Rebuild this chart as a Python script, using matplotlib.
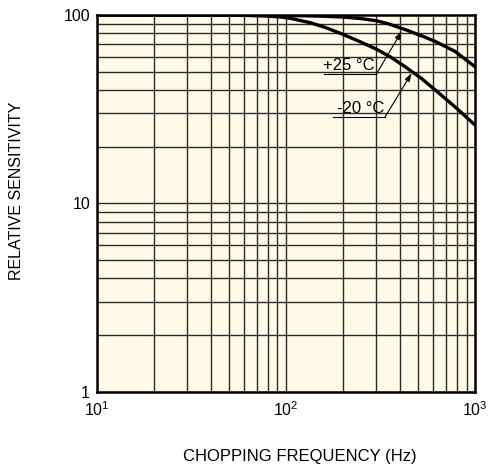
import matplotlib
matplotlib.use("Agg")
import matplotlib.pyplot as plt

plt.rcParams['font.family'] = ['Liberation Sans', 'DejaVu Sans']
plt.rcParams['mathtext.fontset'] = 'custom'
plt.rcParams['mathtext.rm'] = 'Liberation Sans'
plt.rcParams['mathtext.it'] = 'Liberation Sans'

# curve data (Hz, relative sensitivity)
freq_25 = [10, 50, 100, 150, 200, 250, 303, 350, 427, 520, 614, 783, 1000]
sens_25 = [100, 99.8, 99.4, 98.6, 97.5, 95.6, 93, 89.5, 83.6, 77.5, 72.4, 64, 53]
freq_m20 = [10, 40, 62, 80, 93, 105, 134, 160, 193, 247, 303, 360, 427, 520, 614, 783, 1000]
sens_m20 = [100, 99.8, 99.4, 98.6, 97.6, 96, 91, 86, 80, 72, 65.5, 59.5, 53, 46, 40, 32.5, 26]

x_ticks = [10, 100, 1000]
x_labels = ['$10^1$', '$10^2$', '$10^3$']
y_ticks = [1, 10, 100]
y_labels = ['1', '10', '100']

fig = plt.figure(figsize=(4.95, 4.67), dpi=100)
ax = fig.add_axes([0.196, 0.161, 0.764, 0.807])
ax.set_facecolor('#fffbe8')

ax.set_xscale('log')
ax.set_yscale('log')
ax.set_xlim(10, 1000)
ax.set_ylim(1, 100)

# grid at every 1..9 step of each decade
for d in [10, 100]:
    for k in range(1, 10):
        ax.axvline(k * d, color='#2a2a2a', lw=1.0, zorder=1)
for d in [1, 10]:
    for k in range(1, 10):
        ax.axhline(k * d, color='#2a2a2a', lw=1.0, zorder=1)

ax.plot(freq_25, sens_25, color='black', lw=2.4, zorder=3, solid_capstyle='butt')
ax.plot(freq_m20, sens_m20, color='black', lw=2.4, zorder=3, solid_capstyle='butt')

# labels with underline leaders and arrows
def label(text, x0, x1, yline, ytext, xtext, tip):
    ax.plot([x0, x1], [yline, yline], color='black', lw=0.8, zorder=4)
    ax.annotate('', xy=tip, xytext=(x1, yline),
                arrowprops=dict(arrowstyle='-|>,head_length=0.7,head_width=0.22',
                                color='black', lw=0.8, mutation_scale=7,
                                shrinkA=0, shrinkB=0), zorder=4)
    ax.text(xtext, ytext, text, ha='right', va='baseline', fontsize=12, zorder=4)

label('+25 °C', 159, 299, 48.3, 50.8, 294, (409, 82))
label('-20 °C', 177, 334, 28.8, 30.2, 329, (462, 49.2))

ax.set_xticks(x_ticks)
ax.set_xticklabels(x_labels)
ax.set_yticks(y_ticks)
ax.set_yticklabels(y_labels)
ax.minorticks_off()
ax.tick_params(length=0, labelsize=11.5)
ax.tick_params(axis='y', pad=5)
ax.tick_params(axis='x', pad=6)

for s in ax.spines.values():
    s.set_linewidth(1.8)
    s.set_zorder(5)

fig.text(300 / 495, 1 - 456 / 467, 'CHOPPING FREQUENCY (Hz)', fontsize=12,
         ha='center', va='center')
fig.text(17 / 495, 1 - 191 / 467, 'RELATIVE SENSITIVITY', fontsize=11.5,
         ha='center', va='center', rotation=90)

fig.savefig('out.png', dpi=100)
